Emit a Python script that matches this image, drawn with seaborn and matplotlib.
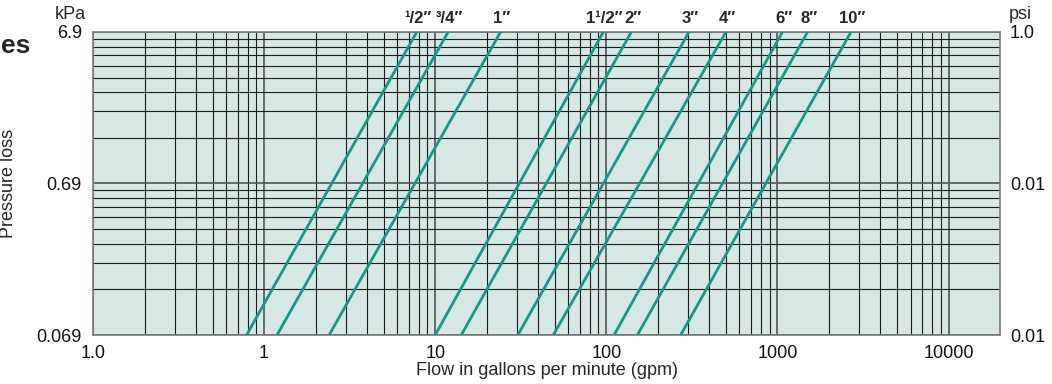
import numpy as np
import pandas as pd
import matplotlib
matplotlib.use("Agg")
import matplotlib.pyplot as plt
import seaborn as sns
from matplotlib.ticker import LogLocator, NullFormatter, FixedLocator

# pipe sizes and flow (gpm) read off where each line meets the bottom (0.01 psi)
# and the top (1 psi) of the chart
pipe_sizes = ["¹/2″", "³/4″", "1″", "1¹/2″", "2″", "3″", "4″", "6″", "8″", "10″"]
flow_at_low = [0.79, 1.19, 2.4, 10.0, 14.2, 30.4, 49.0, 111.0, 152.0, 272.0]
flow_at_high = [7.8, 11.9, 24.1, 96.0, 140.0, 304.0, 500.0, 1070.0, 1500.0, 2690.0]
loss_low = 0.01   # psi
loss_high = 1.0   # psi

x_ticks = [0.1, 1, 10, 100, 1000, 10000]
x_tick_labels = ["1.0", "1", "10", "100", "1000", "10000"]
y_ticks = [0.01, 0.1, 1.0]
kpa_labels = ["0.069", "0.69", "6.9"]
psi_labels = ["0.01", "0.01", "1.0"]

rows = []
for s, lo, hi in zip(pipe_sizes, flow_at_low, flow_at_high):
    rows.append({"size": s, "flow": lo, "loss": loss_low})
    rows.append({"size": s, "flow": hi, "loss": loss_high})
df = pd.DataFrame(rows)

sns.set_style("white")
plt.rcParams["font.family"] = ["Liberation Sans", "DejaVu Sans"]

teal = "#14978f"
fs = 13
fig = plt.figure(figsize=(10.52, 3.84), dpi=100)
ax = fig.add_axes([0.0884, 0.1276, 0.8622, 0.7891])
ax.set_facecolor("#d6e7e6")

ax.set_xscale("log")
ax.set_yscale("log")
ax.set_xlim(0.1, 20000)
ax.set_ylim(0.01, 1.0)

# grid first so lines sit on top
ax.xaxis.set_major_locator(FixedLocator(x_ticks))
ax.xaxis.set_minor_locator(LogLocator(base=10, subs=range(2, 10), numticks=20))
ax.yaxis.set_major_locator(FixedLocator(y_ticks))
ax.yaxis.set_minor_locator(LogLocator(base=10, subs=range(2, 10), numticks=20))
ax.xaxis.set_minor_formatter(NullFormatter())
ax.yaxis.set_minor_formatter(NullFormatter())
ax.grid(which="minor", color="#1c1c1c", lw=0.8)
ax.grid(which="major", color="#555555", lw=1.2)
ax.set_axisbelow(True)

sns.lineplot(data=df, x="flow", y="loss", hue="size", units="size", estimator=None,
             palette=[teal] * len(pipe_sizes), legend=False, lw=2.0, ax=ax, zorder=3)

ax.set_xticklabels(x_tick_labels)
ax.set_yticklabels(kpa_labels)
ax.tick_params(which="both", length=0, labelsize=fs, colors="#111111")
ax.tick_params(axis="x", pad=7)
ax.tick_params(axis="y", pad=8)
for sp in ax.spines.values():
    sp.set_color("#7a7a7a")
    sp.set_linewidth(1.2)

ax.set_xlabel("Flow in gallons per minute (gpm)", fontsize=fs, labelpad=0)
ax.set_ylabel("Pressure loss", fontsize=fs)
ax.yaxis.set_label_coords(-0.084, 0.5)

# right axis in psi
ax2 = ax.twinx()
ax2.set_yscale("log")
ax2.set_ylim(0.01, 1.0)
ax2.yaxis.set_major_locator(FixedLocator(y_ticks))
ax2.yaxis.set_minor_locator(FixedLocator([]))
ax2.set_yticklabels(psi_labels)
ax2.tick_params(which="both", length=0, labelsize=fs, colors="#111111", pad=7)
for sp in ax2.spines.values():
    sp.set_visible(False)

# unit captions
ax.text(-0.025, 1.058, "kPa", transform=ax.transAxes, ha="center", va="center", fontsize=fs)
ax.text(1.022, 1.058, "psi", transform=ax.transAxes, ha="center", va="center", fontsize=fs)
fig.text(1 / 1052, 1 - 53 / 384, "es", ha="left", va="baseline", fontsize=19, fontweight="bold")

# pipe size labels at the top end of each line
for s, hi in zip(pipe_sizes, flow_at_high):
    ax.annotate(s, xy=(hi, 1.0), xycoords=("data", "axes fraction"),
                xytext=(1, 4), textcoords="offset points", ha="center", va="bottom",
                fontsize=12, fontweight="bold")

fig.savefig("out.png", dpi=100)
